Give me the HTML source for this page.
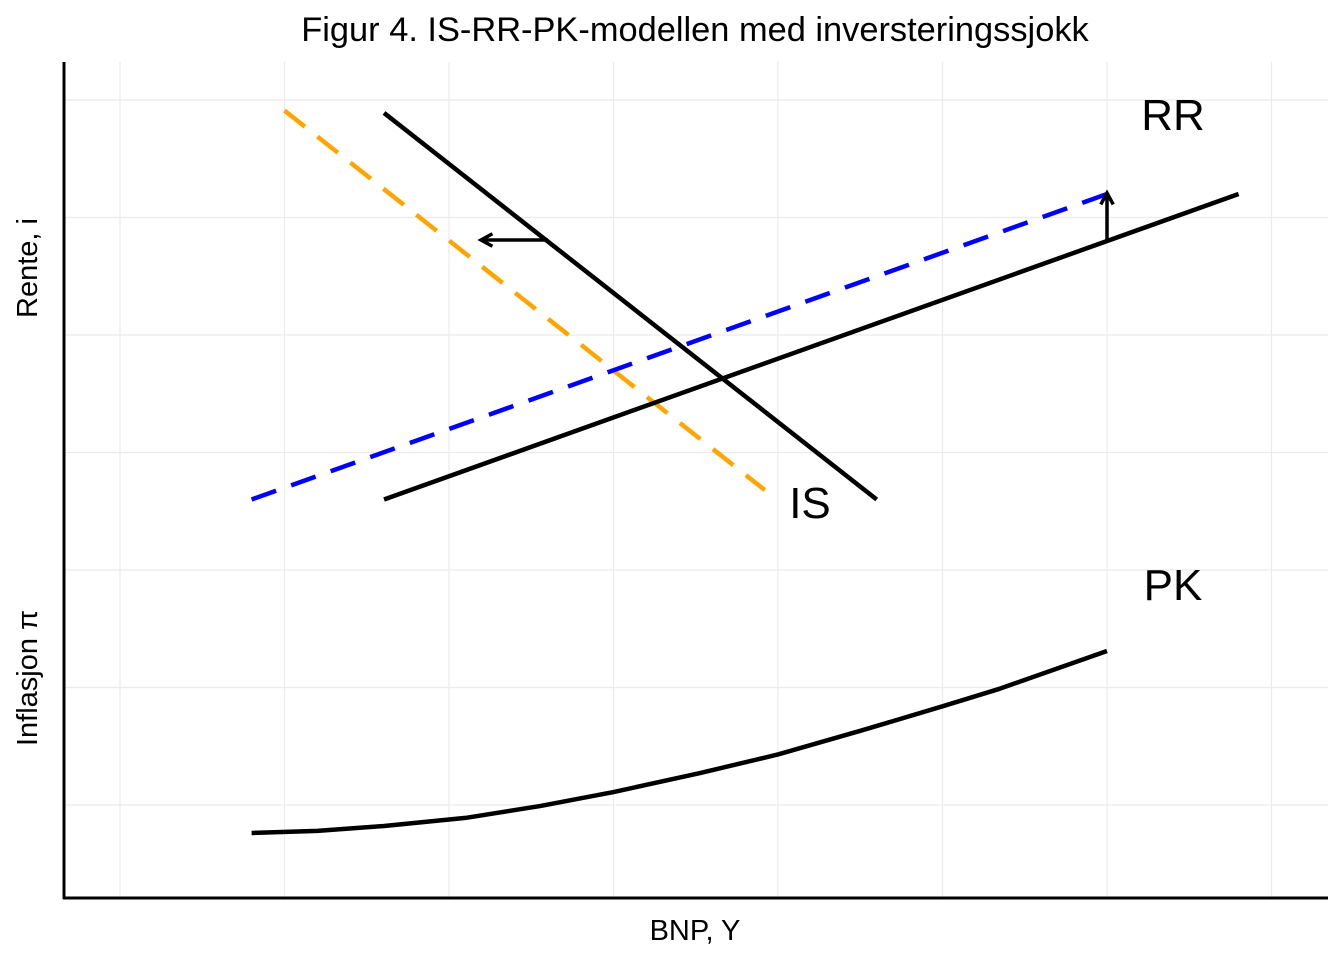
<!DOCTYPE html>
<html><head><meta charset="utf-8"><style>
html,body{margin:0;padding:0;background:#fff;}
svg{display:block;font-family:"Liberation Sans",sans-serif;}
</style></head><body>
<svg id="chart" width="1344" height="960">
<text x="695" y="41" text-anchor="middle" font-size="34.4">Figur 4. IS-RR-PK-modellen med inversteringssjokk</text>
<g id="grid"></g>
<g id="series"></g>
<line x1="64" y1="62" x2="64" y2="899" stroke="#000" stroke-width="3"/>
<line x1="63" y1="898" x2="1328" y2="898" stroke="#000" stroke-width="3"/>
<text x="695" y="940" text-anchor="middle" font-size="29">BNP, Y</text>
<text transform="translate(37,268) rotate(-90)" text-anchor="middle" font-size="29">Rente, i</text>
<text transform="translate(37,678) rotate(-90)" text-anchor="middle" font-size="29">Inflasjon π</text>
<text x="1173" y="130" text-anchor="middle" font-size="44">RR</text>
<text x="810" y="518" text-anchor="middle" font-size="44">IS</text>
<text x="1173" y="600" text-anchor="middle" font-size="44">PK</text>
</svg>
<script>
const xGrid=[0,1,2,3,4,5,6,7];
const yGrid=[1,2,3,4,5,6,7];
const isX=[1.605,4.6], isY=[6.89,3.6];
const is2X=[1.0,3.92], is2Y=[6.91,3.68];
const rrX=[1.605,6.8], rrY=[3.6,6.2];
const rr2X=[0.8,6.0], rr2Y=[3.6,6.2];
const pkX=[0.8,1.2,1.605,2.1,2.553,3.0,3.526,4.0,4.498,5.0,5.349,6.0];
const pkY=[0.762,0.78,0.821,0.89,0.991,1.11,1.272,1.43,1.630,1.84,1.99,2.311];
function sx(v){return 120+v*164.5;}
function sy(v){return 805-(v-1)*117.5;}
const NS="http://www.w3.org/2000/svg";
const grid=document.getElementById('grid'), ser=document.getElementById('series');
xGrid.forEach(v=>{const l=document.createElementNS(NS,'line');
l.setAttribute('x1',sx(v));l.setAttribute('x2',sx(v));l.setAttribute('y1',62);l.setAttribute('y2',898);
l.setAttribute('stroke','#ebebeb');l.setAttribute('stroke-width','1.2');


grid.appendChild(l);});
yGrid.forEach(v=>{const l=document.createElementNS(NS,'line');
l.setAttribute('x1',64);l.setAttribute('x2',1328);l.setAttribute('y1',sy(v));l.setAttribute('y2',sy(v));
l.setAttribute('stroke','#ebebeb');l.setAttribute('stroke-width','1.2');


grid.appendChild(l);});
function path(xs,ys,color,dash,name){const p=document.createElementNS(NS,'path');
p.setAttribute('d',xs.map((x,i)=>(i?'L':'M')+sx(x)+','+sy(ys[i])).join(' '));
p.setAttribute('fill','none');p.setAttribute('stroke',color);p.setAttribute('stroke-width','4.5');
p.setAttribute('stroke-linejoin','round');
if(dash)p.setAttribute('stroke-dasharray',dash);


ser.appendChild(p);}
path(is2X,is2Y,'#ffa500','26,16','is-curve-shifted');
path(rr2X,rr2Y,'#0000ff','26,16','rr-curve-shifted');
path(isX,isY,'#000',null,'is-curve');
path(rrX,rrY,'#000',null,'rr-curve');
path(pkX,pkY,'#000',null,'pk-curve');
function arrow(x1,y1,x2,y2,name){const g=document.createElementNS(NS,'g');
const a=Math.atan2(y2-y1,x2-x1),L=13;
g.innerHTML='<line x1="'+x1+'" y1="'+y1+'" x2="'+x2+'" y2="'+y2+'" stroke="#000" stroke-width="3.5"/>'+
'<polyline points="'+(x2-L*Math.cos(a-0.5))+','+(y2-L*Math.sin(a-0.5))+' '+x2+','+y2+' '+(x2-L*Math.cos(a+0.5))+','+(y2-L*Math.sin(a+0.5))+'" fill="none" stroke="#000" stroke-width="3.5"/>';


ser.appendChild(g);}
arrow(548,240,481,240,'is-shift-arrow');
arrow(1107,241,1107,193,'rr-shift-arrow');
</script>
</body></html>
